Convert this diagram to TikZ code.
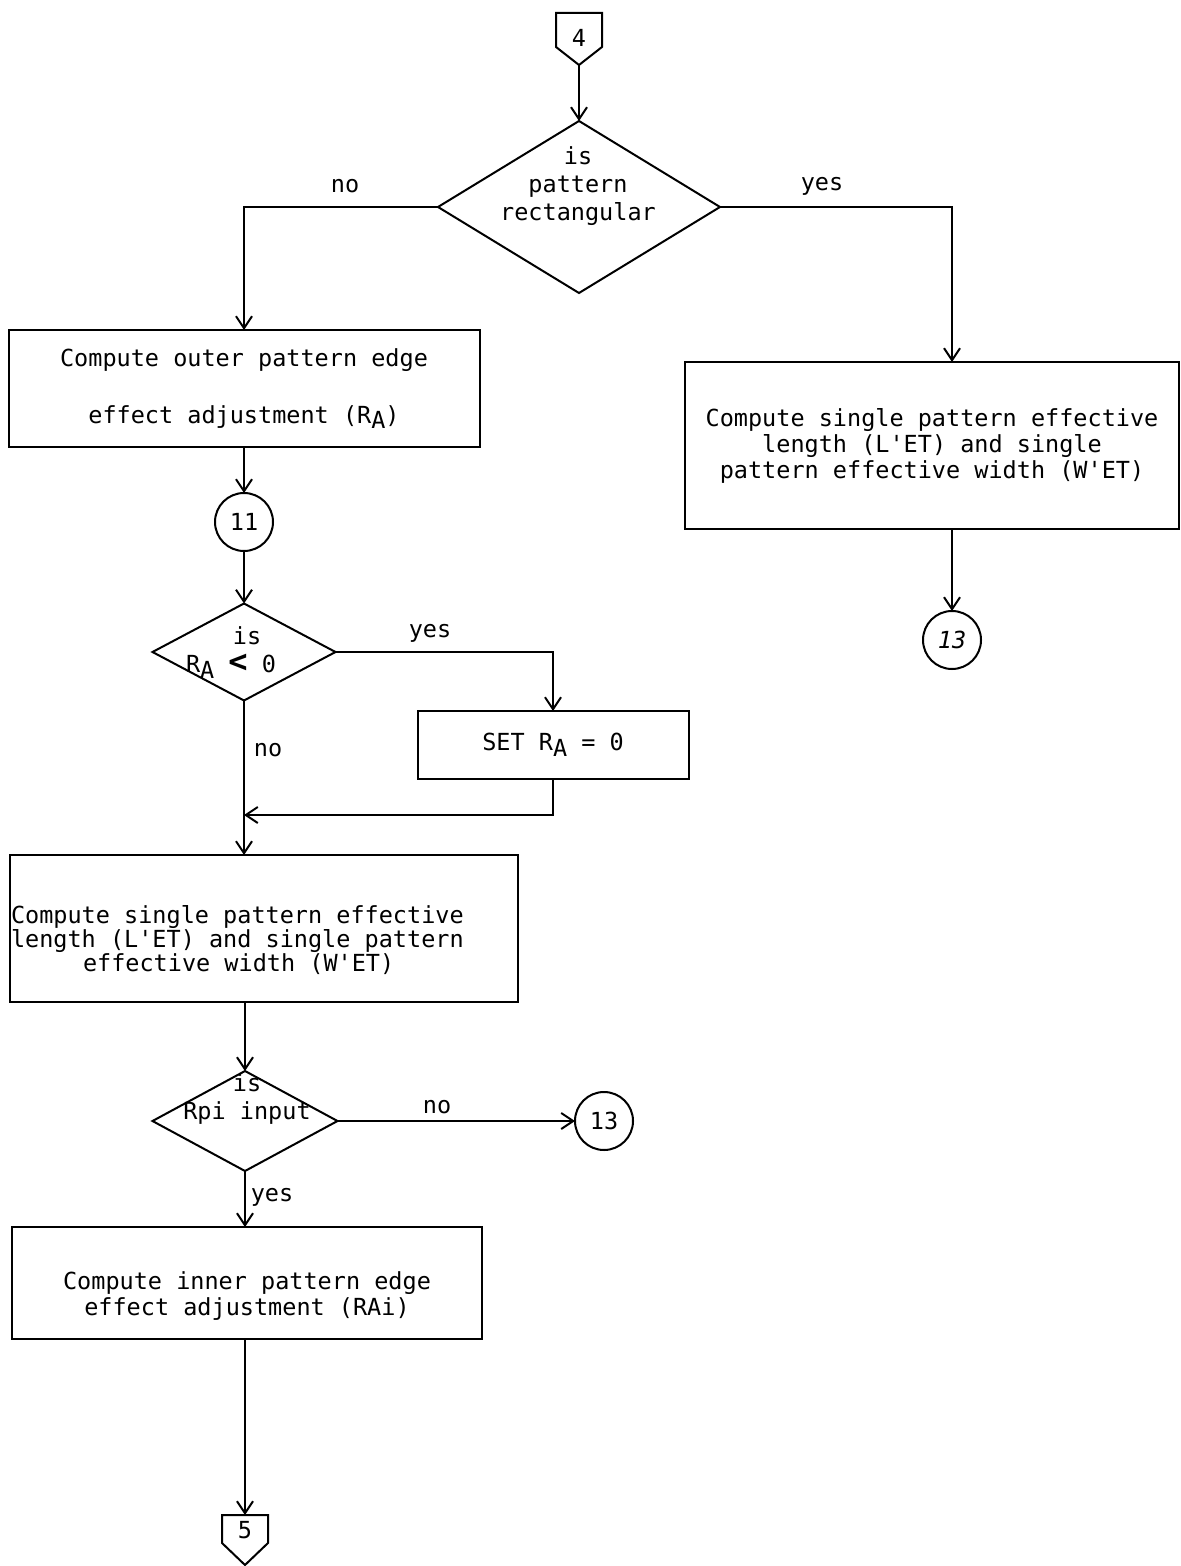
\documentclass[tikz,border=0pt]{standalone}
\usepackage{fontspec}
\newfontfamily\flowfont{DejaVu Sans Mono}
\usetikzlibrary{arrows.meta,shapes.geometric,calc}
% subscripted R_A as typed on the chart
\newcommand\RA{R\raisebox{-0.45ex}{A}}
\newcommand\apos{\textquotesingle}
\tikzset{
  every node/.style={font=\flowfont\fontsize{11.75}{13}\selectfont, inner sep=0pt, outer sep=0pt},
  lines/.style={font=\flowfont\fontsize{11.75}{#1}\selectfont, align=center},
  flow/.style={line width=1pt, line join=miter},
  arr/.style={line width=1pt, -{Straight Barb[length=6pt,width=8pt,line width=1pt]}},
  procbox/.style={draw, line width=1pt, rectangle},
  decision/.style={draw, line width=1pt, diamond},
  conn/.style={draw, line width=1pt, circle},
}
\begin{document}
\begin{tikzpicture}[x=0.5pt,y=-0.5pt]
\fill[white] (0,0) rectangle (1181,1566);
\useasboundingbox (0,0) rectangle (1181,1566);

% ---- entry off-page connector 4
\node (p4) at (579,38) {4};
\coordinate (p4tip) at ($(p4)+(0,27)$);
\draw[flow] ($(p4)+(-23,-25)$) -- ($(p4)+(-23,9)$) -- (p4tip) -- ($(p4)+(23,9)$) -- ($(p4)+(23,-25)$) -- cycle;

% ---- is pattern rectangular
\node[decision, minimum width=141pt, minimum height=86pt] (d1) at (579,207) {};
\node[lines=14pt] (d1t) at (578,186) {is\\pattern\\rectangular};
\draw[arr] (p4tip) -- (d1.north);
\node (no1) at (345,186) {no};
\node (yes1) at (822,186) {yes};

% ---- right branch
\node[procbox, minimum width=247pt, minimum height=83.5pt, lines=13pt] (b2) at (932,445.5)
  {Compute single pattern effective\\length (L\apos ET) and single\\pattern effective width (W\apos ET)};
\coordinate (rc) at (952,0);
\draw[arr] (d1.east) -| (b2.north -| rc);
\node[conn, minimum size=29pt] (c13a) at (952,640) {\itshape 13};
\draw[arr] (b2.south -| rc) -- (c13a.north);

% ---- left branch
\node[procbox, minimum width=235.5pt, minimum height=58.5pt, lines=28.5pt] (b1) at (244,388.5)
  {Compute outer pattern edge\\effect adjustment (\RA)};
\draw[arr] (d1.west) -| (b1.north);
\node[conn, minimum size=29pt] (c11) at (244,522) {11};
\draw[arr] (b1.south) -- (c11.north);

% ---- is R_A < 0
\node[decision, minimum width=91.5pt, minimum height=48.5pt] (d2) at (244,652) {};
\node (d2a) at (247,636) {is};
\node (d2b) at (231,666) {\RA\ {\fontsize{16}{16}\selectfont\bfseries<} 0};
\draw[arr] (c11.south) -- (d2.north);
\node (yes2) at (430,633) {yes};
\node[procbox, minimum width=135.5pt, minimum height=34pt] (b3) at (553,745) {SET \RA\ = 0};
\draw[arr] (d2.east) -| (b3.north);
\node (no2) at (268,750) {no};

% ---- second pattern computation
\node[procbox, minimum width=254pt, minimum height=73.5pt] (b4) at (264,928.5) {};
\node[anchor=west, align=left, font=\flowfont\fontsize{11.75}{12}\selectfont] (b4t) at (11,940)
  {Compute single pattern effective\\length (L\apos ET) and single pattern\\\hspace*{36pt}effective width (W\apos ET)};
\draw[arr] (d2.south) -- (d2.south |- b4.north);
\coordinate (mg) at (244,815);
\draw[arr] (b3.south) |- (mg);

% ---- is Rpi input
\node[decision, minimum width=92.5pt, minimum height=50pt] (d3) at (245,1121) {};
\node[lines=14pt] (d3t) at (247,1099) {is\\Rpi input};
\draw[arr] (b4.south -| d3.north) -- (d3.north);
\node[conn, minimum size=29pt] (c13b) at (604,1121) {13};
\draw[arr] (d3.east) -- (c13b.west);
\node (no3) at (437,1107) {no};
\node (yes3) at (272,1197) {yes};

% ---- inner pattern edge adjustment
\node[procbox, minimum width=235pt, minimum height=56pt] (b5) at (247,1283) {};
\node[lines=13pt] (b5t) at (247,1296) {Compute inner pattern edge\\effect adjustment (RAi)};
\draw[arr] (d3.south) -- (d3.south |- b5.north);

% ---- exit off-page connector 5
\node (p5) at (245,1530) {5};
\coordinate (p5top) at ($(p5)+(0,-15)$);
\coordinate (p5tip) at ($(p5)+(0,35)$);
\draw[flow] ($(p5)+(-23,-15)$) -- ($(p5)+(-23,13)$) -- (p5tip) -- ($(p5)+(23,13)$) -- ($(p5)+(23,-15)$) -- cycle;
\draw[arr] (b5.south -| p5top) -- (p5top);
\end{tikzpicture}
\end{document}
